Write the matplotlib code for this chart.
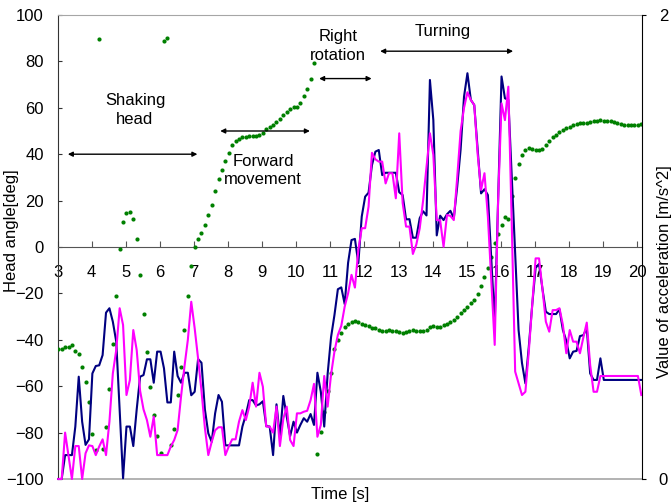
import numpy as np
import matplotlib
matplotlib.use("Agg")
import matplotlib.pyplot as plt

plt.rcParams['font.family'] = ['Liberation Sans', 'DejaVu Sans']
plt.rcParams['font.size'] = 12

# samples every 0.1 s
time_s = np.round(3.02 + 0.1 * np.arange(172), 2)

# head angle [deg] (left axis)
head_angle = [
    -44.1, -43.8, -43.2, -43.0, -42.1, -44.7, -46.1, -51.6, -58.0, -66.7,
    -80.6, -87.5, 89.7, -86.9, -77.7, -61.3, -41.8, -21.1, -0.7, 10.9,
    14.8, 15.2, 11.9, 3.3, -11.9, -28.9, -45.4, -60.3, -72.6, -81.5,
    -88.7, 88.9, 90.1, -85.5, -78.3, -63.6, -51.9, -35.8, -21.1, -8.2,
    -0.1, 3.3, 5.9, 9.6, 13.7, 18.2, 24.0, 29.2, 33.2, 36.9,
    40.6, 43.8, 45.5, 46.7, 47.2, 47.5, 47.8, 47.9, 48.0, 48.3,
    49.0, 50.7, 51.6, 52.7, 53.9, 55.3, 56.8, 58.2, 59.4, 60.2,
    60.5, 62.2, 65.1, 68.2, 72.3, 79.4, -89.2, -79.8, -71.0, -62.0,
    -54.5, -44.0, -40.0, -37.0, -34.5, -33.0, -32.2, -32.0, -32.4, -33.0,
    -33.6, -34.2, -34.7, -35.1, -35.6, -36.0, -36.1, -35.9, -36.0, -36.4,
    -36.8, -36.9, -36.6, -36.2, -35.9, -36.0, -36.1, -36.1, -35.7, -34.6,
    -34.1, -34.3, -34.3, -33.8, -33.2, -32.5, -31.4, -30.0, -28.6, -27.3,
    -25.8, -24.3, -22.7, -20.3, -16.8, -13.1, -9.0, -4.2, 1.6, 5.6,
    9.6, 12.8, 11.9, 22.0, 29.7, 35.8, 39.8, 41.8, 42.7, 42.1,
    41.8, 41.8, 42.4, 44.1, 45.5, 47.3, 48.4, 49.6, 50.4, 51.3,
    51.9, 52.4, 53.0, 53.3, 53.6, 53.6, 53.9, 54.2, 54.5, 54.7,
    54.5, 54.2, 54.1, 53.8, 53.5, 53.1, 52.8, 52.5, 52.4, 52.4,
    52.6, 53.0,
]

# value of acceleration [m/s^2] (right axis)
acc_navy = [
    0.00, 0.00, 0.103, 0.103, 0.103, 0.226, 0.441, 0.247, 0.147, 0.171,
    0.455, 0.487, 0.49, 0.534, 0.717, 0.736, 0.678, 0.592, 0.30, 0.003,
    0.226, 0.226, 0.142, 0.30, 0.441, 0.448, 0.516, 0.516, 0.415, 0.549,
    0.549, 0.477, 0.33, 0.33, 0.549, 0.444, 0.415, 0.458, 0.458, 0.361,
    0.376, 0.517, 0.501, 0.30, 0.197, 0.16, 0.283, 0.362, 0.333, 0.145,
    0.145, 0.145, 0.145, 0.145, 0.226, 0.276, 0.34, 0.34, 0.317, 0.322,
    0.335, 0.228, 0.226, 0.103, 0.322, 0.182, 0.358, 0.269, 0.185, 0.247,
    0.20, 0.233, 0.262, 0.247, 0.28, 0.233, 0.458, 0.376, 0.226, 0.453,
    0.611, 0.707, 0.818, 0.826, 0.754, 0.932, 1.03, 1.035, 0.93, 1.131,
    1.217, 1.234, 1.353, 1.411, 1.418, 1.31, 1.32, 1.32, 1.32, 1.32,
    1.236, 1.224, 1.119, 1.12, 1.04, 1.04, 1.124, 1.154, 1.136, 1.72,
    1.547, 1.05, 1.135, 1.116, 1.141, 1.156, 1.124, 1.26, 1.42, 1.648,
    1.749, 1.634, 1.612, 1.42, 1.231, 1.249, 1.224, 0.95, 0.671, 1.20,
    1.735, 1.641, 1.634, 1.30, 0.97, 0.642, 0.50, 0.412, 0.57, 0.75,
    0.91, 0.927, 0.82, 0.721, 0.711, 0.711, 0.711, 0.731, 0.642, 0.596,
    0.52, 0.549, 0.552, 0.616, 0.62, 0.65, 0.455, 0.427, 0.427, 0.52,
    0.427, 0.427, 0.427, 0.427, 0.427, 0.427, 0.427, 0.427, 0.427, 0.427,
    0.427, 0.427,
]

acc_magenta = [
    0.00, 0.00, 0.20, 0.10, 0.00, 0.142, 0.142, 0.00, 0.111, 0.145,
    0.142, 0.103, 0.14, 0.171, 0.103, 0.247, 0.455, 0.556, 0.736, 0.664,
    0.362, 0.427, 0.642, 0.556, 0.38, 0.30, 0.254, 0.182, 0.269, 0.103,
    0.103, 0.103, 0.103, 0.14, 0.168, 0.211, 0.355, 0.484, 0.60, 0.764,
    0.65, 0.52, 0.38, 0.22, 0.103, 0.16, 0.21, 0.223, 0.223, 0.103,
    0.14, 0.171, 0.171, 0.247, 0.297, 0.254, 0.312, 0.415, 0.312, 0.458,
    0.398, 0.226, 0.226, 0.20, 0.312, 0.142, 0.26, 0.312, 0.168, 0.142,
    0.283, 0.283, 0.29, 0.294, 0.34, 0.41, 0.182, 0.233, 0.444, 0.312,
    0.45, 0.55, 0.621, 0.66, 0.743, 0.80, 0.88, 0.825, 0.987, 1.081,
    1.081, 1.174, 1.406, 1.378, 1.368, 1.368, 1.274, 1.318, 1.318, 1.21,
    1.49, 1.19, 1.088, 1.088, 0.97, 1.01, 1.08, 1.20, 1.346, 1.49,
    1.397, 1.116, 1.115, 1.001, 1.138, 1.134, 1.116, 1.30, 1.50, 1.60,
    1.667, 1.634, 1.612, 1.40, 1.246, 1.318, 1.131, 0.85, 0.578, 1.20,
    1.619, 1.547, 1.691, 1.10, 0.463, 0.412, 0.362, 0.376, 0.55, 0.75,
    0.951, 0.951, 0.82, 0.678, 0.635, 0.728, 0.728, 0.736, 0.664, 0.542,
    0.642, 0.592, 0.592, 0.542, 0.61, 0.674, 0.491, 0.376, 0.376, 0.444,
    0.444, 0.444, 0.444, 0.444, 0.444, 0.444, 0.444, 0.444, 0.444, 0.444,
    0.444, 0.362,
]

fig = plt.figure(figsize=(6.72, 5.04), dpi=100)
ax = fig.add_axes([57.6 / 672, 25 / 504, (642 - 57.6) / 672, 464 / 504])
ax2 = ax.twinx()

ax.plot(time_s, head_angle, 'o', color='#008000', ms=3, mec='none', zorder=3)
ax2.plot(time_s, acc_navy, color='#000080', lw=1.5, clip_on=False)
ax2.plot(time_s, acc_magenta, color='#ff00ff', lw=1.5, clip_on=False)

ax.set_xlim(3, 20.14)
ax.set_ylim(-100, 100)
ax2.set_ylim(0, 2)
ax.set_xticks(range(3, 21))
ax.set_yticks(range(-100, 101, 20))
ax2.set_yticks([0, 2])

# x axis crosses at zero
ax.spines['bottom'].set_position(('data', 0))
ax.spines['bottom'].set_color('#555555')
ax.spines['top'].set_color('#a6a6a6')
ax.spines['left'].set_color('#333333')
ax.spines['right'].set_visible(False)
for s in ['top', 'bottom', 'left']:
    ax2.spines[s].set_visible(False)
ax2.spines['right'].set_color('black')
ax.axhline(-100, color='#a6a6a6', lw=1.2, clip_on=False)

ax.tick_params(axis='x', direction='in', length=4, pad=13, color='#555555')
ax.tick_params(axis='y', direction='in', length=3, pad=10, color='#333333')
ax2.tick_params(axis='y', direction='out', length=3, pad=9)

fig.text(12 / 672, 1 - 231 / 504, 'Head angle[deg]', rotation=90,
         ha='center', va='center')
fig.text(664 / 672, 1 - 272 / 504, 'Value of acceleration [m/s^2]',
         rotation=90, ha='center', va='center')
fig.text(340 / 672, 1 - 494 / 504, 'Time [s]', ha='center', va='center')

# phase annotations
arr = dict(arrowstyle='<|-|>', color='black', lw=1, mutation_scale=7,
           shrinkA=0, shrinkB=0)
ax.annotate('', xy=(3.3, 40), xytext=(7.1, 40), arrowprops=arr)
ax.text(5.27, 59, 'Shaking\nhead', ha='center', va='center', linespacing=1.3)
ax.annotate('', xy=(7.77, 50), xytext=(10.4, 50), arrowprops=arr)
ax.text(9.03, 33, 'Forward\nmovement', ha='center', va='center',
        linespacing=1.3)
ax.annotate('', xy=(10.67, 72.6), xytext=(12.21, 72.6), arrowprops=arr)
ax.text(11.23, 86.6, 'Right\nrotation', ha='center', va='center',
        linespacing=1.3)
ax.annotate('', xy=(12.46, 84.4), xytext=(16.36, 84.4), arrowprops=arr)
ax.text(14.29, 93.1, 'Turning', ha='center', va='center')

fig.savefig('out.png', dpi=100)
